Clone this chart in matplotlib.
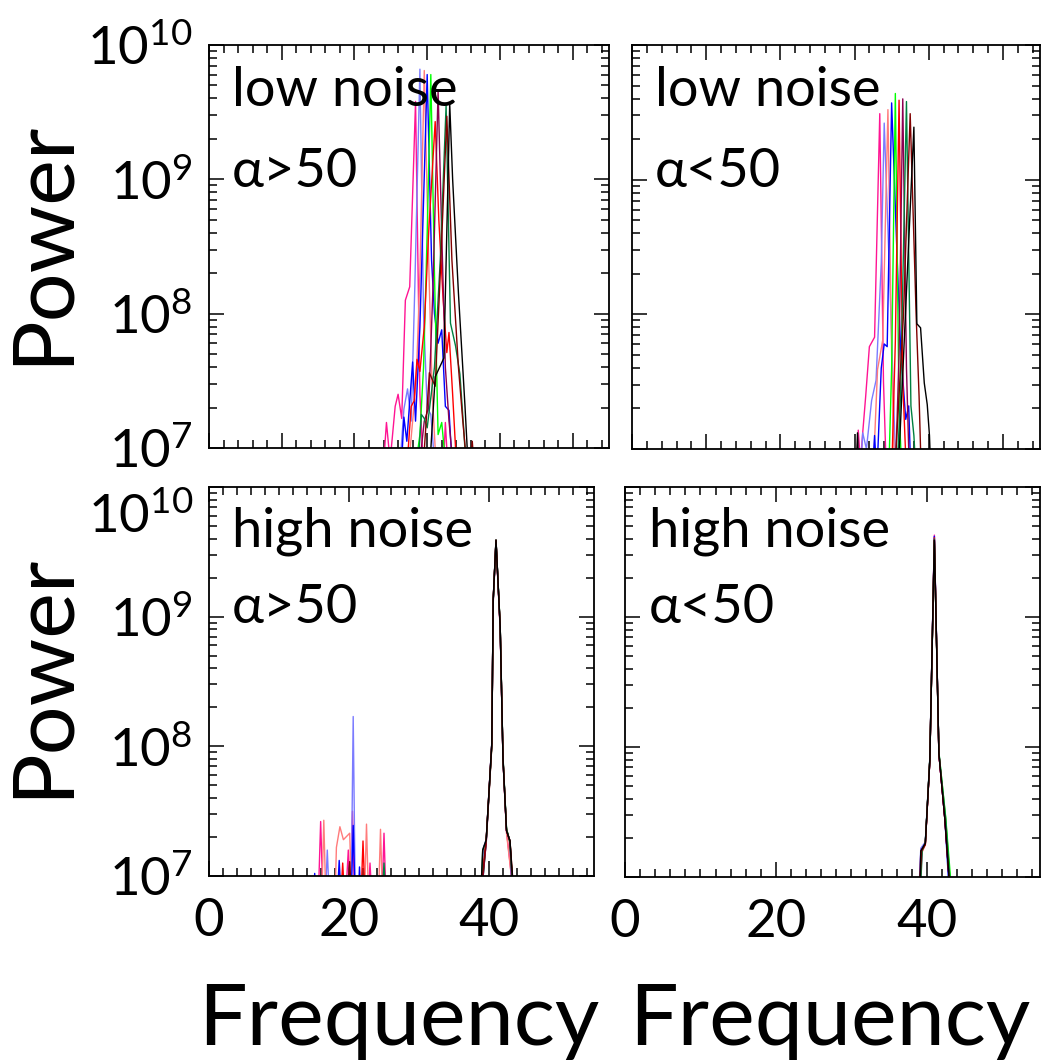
import numpy as np
import matplotlib
matplotlib.use("Agg")
import matplotlib.pyplot as plt
from matplotlib.ticker import LogLocator, MultipleLocator, NullFormatter, FuncFormatter

plt.rcParams["font.family"] = ["Lato", "DejaVu Sans"]
plt.rcParams["mathtext.default"] = "regular"

W, H = 1042, 1061

series_colors = ["#FF1493", "#7B7BFF", "#FF7B7B", "#0000FF", "#00FF00",
                 "#FF0000", "#8B0050", "#008040", "#800000", "#000000"]

# low noise, alpha > 50  (frequency, log10 power)
tl_freq = [
    [23.9, 24.4, 24.9, 25.6, 26.0, 26.5, 27.0, 27.6, 28.4, 29.0, 29.5, 32.2, 32.5, 32.9],
    [26.3, 26.8, 27.3, 27.8, 28.3, 29.0, 29.5, 30.0, 30.5, 31.0],
    [27.5, 28.0, 28.5, 29.0, 29.6, 30.2, 30.7, 31.2],
    [26.5, 26.8, 27.2, 28.0, 28.4, 29.0, 30.0, 30.6, 31.0, 31.5, 32.0, 32.5, 33.0, 33.4],
    [28.5, 29.0, 29.5, 30.0, 30.5, 31.0, 31.5, 32.0, 32.5],
    [26.8, 27.4, 27.8, 28.2, 28.6, 29.0, 29.6, 30.2, 31.1, 31.6, 32.2, 32.7, 33.0, 33.5, 34.0],
    [29.0, 29.6, 30.2, 30.8, 31.5, 32.0, 32.5, 33.0, 33.5],
    [28.8, 29.2, 29.6, 30.0, 31.0, 31.8, 32.6, 33.2, 33.9, 34.5, 35.0, 35.3],
    [29.5, 30.3, 31.1, 31.8, 32.7, 33.4, 34.3, 34.9, 35.4, 36.0, 36.2, 36.4],
    [30.4, 31.1, 31.7, 32.3, 33.1, 33.5, 34.3, 35.2, 35.6],
]
tl_logp = [
    [6.8, 7.19, 6.9, 7.31, 7.40, 7.22, 8.10, 8.20, 9.58, 7.4, 6.8, 6.8, 7.19, 6.8],
    [6.9, 7.29, 7.44, 7.2, 8.2, 9.82, 8.0, 7.3, 7.25, 6.9],
    [6.9, 7.2, 7.5, 8.3, 9.81, 8.4, 7.4, 6.9],
    [6.9, 7.23, 7.05, 7.64, 7.2, 7.9, 9.78, 8.4, 8.0, 7.78, 7.88, 7.31, 7.28, 6.9],
    [6.9, 7.1, 7.6, 8.6, 9.78, 8.3, 7.1, 7.19, 6.9],
    [6.9, 7.0, 7.31, 7.35, 7.66, 7.57, 7.9, 8.6, 9.43, 8.7, 8.1, 7.71, 7.86, 7.4, 6.9],
    [6.9, 7.2, 7.3, 8.2, 9.66, 8.6, 7.6, 7.2, 6.9],
    [6.9, 7.25, 7.22, 7.15, 7.6, 8.4, 9.55, 7.93, 7.76, 7.55, 7.16, 6.9],
    [6.9, 7.56, 7.46, 8.3, 9.47, 8.4, 7.6, 7.2, 6.9, 6.9, 7.05, 6.9],
    [6.9, 7.53, 7.6, 7.67, 9.56, 9.0, 8.15, 7.31, 6.9],
]

# low noise, alpha < 50
tr_freq = [
    [30.2, 30.5, 30.8, 31.1, 31.5, 32.0, 32.7, 33.4, 33.9, 34.3],
    [30.8, 31.1, 31.6, 32.3, 32.9, 33.6, 34.0, 34.9, 35.3, 35.6],
    [32.5, 33.1, 33.8, 34.5, 35.0, 35.4],
    [32.4, 32.7, 33.0, 33.6, 34.0, 34.4, 35.0, 35.8, 36.2, 36.9, 37.3, 37.6],
    [34.6, 35.0, 35.5, 36.0, 36.4],
    [35.0, 35.5, 36.0, 36.5, 37.0],
    [35.5, 36.0, 36.5, 37.0, 37.4],
    [35.7, 36.2, 37.0, 37.6, 38.0, 38.3],
    [35.2, 35.6, 36.6, 37.5, 38.3, 38.7, 39.0],
    [30.2, 30.4, 30.6, 36.0, 38.0, 38.4, 38.9, 39.4, 39.8, 40.1, 40.3],
]
tr_logp = [
    [6.8, 7.14, 6.9, 7.12, 7.39, 7.76, 7.83, 9.49, 7.5, 6.8],
    [6.8, 7.12, 7.0, 7.36, 7.51, 8.38, 9.42, 8.0, 7.3, 6.8],
    [6.8, 7.59, 7.81, 9.52, 7.7, 6.8],
    [6.8, 7.1, 6.8, 7.6, 7.78, 7.76, 9.57, 8.33, 7.76, 7.22, 7.32, 6.8],
    [6.8, 7.6, 9.64, 7.3, 6.8],
    [6.8, 7.8, 9.59, 7.5, 6.8],
    [6.8, 7.7, 9.60, 7.6, 6.8],
    [6.8, 7.4, 9.58, 7.32, 7.1, 6.8],
    [6.8, 7.0, 8.0, 9.49, 8.0, 7.39, 6.8],
    [6.8, 7.12, 6.8, 6.95, 9.39, 7.93, 7.9, 7.49, 7.33, 7.1, 6.8],
]

# high noise, alpha > 50
bl_freq = [
    [15.6, 15.95, 16.3, 19.5, 19.9, 20.2, 20.5, 20.8, 22.7, 23.0, 23.3, 24.7, 25.0, 25.3,
     38.9, 39.6, 40.4, 40.6, 41.0, 41.6, 42.0, 42.5, 43.4],
    [16.6, 16.9, 17.2, 20.3, 20.6, 20.9, 38.9, 39.2, 39.6, 40.4, 40.6, 41.0, 41.6, 42.0, 42.5, 43.0, 43.3],
    [16.1, 16.4, 16.7, 18.0, 18.2, 18.7, 19.2, 20.1, 20.4, 22.2, 22.5, 22.8, 24.2, 24.5, 24.8,
     38.9, 39.6, 40.4, 40.6, 41.0, 41.6, 42.0, 42.5, 43.4],
    [14.9, 15.1, 15.3, 18.3, 18.6, 18.9, 20.3, 20.6, 20.9, 21.3, 21.5, 21.7,
     39.0, 39.6, 40.4, 40.6, 41.0, 41.6, 42.0, 42.5, 43.0, 43.3],
    [39.0, 39.6, 40.4, 40.6, 41.0, 41.6, 42.0, 42.5, 43.0, 43.4],
    [18.8, 19.1, 19.4, 21.7, 22.0, 22.3, 38.9, 39.6, 40.4, 40.6, 41.0, 41.6, 42.0, 42.5, 43.0, 43.4],
    [39.0, 39.6, 40.4, 40.6, 41.0, 41.6, 42.0, 42.5, 43.0, 43.4],
    [24.7, 25.0, 25.3, 38.9, 39.1, 39.6, 40.4, 40.6, 41.0, 41.6, 42.0, 42.5, 43.0, 43.4],
    [19.8, 20.1, 20.4, 38.9, 39.6, 40.4, 40.6, 41.0, 41.6, 42.0, 42.5, 43.0, 43.5],
    [38.9, 39.1, 39.6, 40.4, 40.6, 41.0, 41.6, 42.0, 42.5, 43.0, 43.4],
]
bl_logp = [
    [6.8, 7.42, 6.8, 6.8, 7.2, 6.9, 7.5, 6.8, 6.8, 7.1, 6.8, 6.8, 7.33, 6.8,
     6.9, 7.25, 8.0, 9.1, 9.58, 8.9, 7.9, 7.35, 6.9],
    [6.8, 7.2, 6.8, 6.8, 8.23, 6.8, 6.9, 7.22, 7.28, 8.03, 9.13, 9.59, 8.92, 7.92, 7.36, 7.26, 6.9],
    [6.8, 7.43, 6.8, 6.8, 7.22, 7.38, 7.28, 7.33, 6.8, 6.8, 7.4, 6.8, 6.8, 7.36, 6.8,
     6.9, 7.27, 8.0, 9.12, 9.58, 8.9, 7.9, 7.33, 6.9],
    [6.8, 7.02, 6.8, 6.8, 7.12, 6.8, 6.8, 7.39, 6.8, 6.8, 7.07, 6.8,
     6.9, 7.27, 8.02, 9.12, 9.59, 8.92, 7.9, 7.35, 7.27, 6.9],
    [6.9, 7.27, 8.0, 9.12, 9.59, 8.93, 7.92, 7.37, 7.25, 6.9],
    [6.8, 7.1, 6.8, 6.8, 7.27, 6.8, 6.9, 7.28, 8.02, 9.13, 9.59, 8.92, 7.9, 7.35, 7.27, 6.9],
    [6.9, 7.26, 8.01, 9.13, 9.58, 8.91, 7.91, 7.36, 7.26, 6.9],
    [6.8, 7.1, 6.8, 6.9, 7.2, 7.27, 8.02, 9.12, 9.59, 8.92, 7.9, 7.36, 7.27, 6.9],
    [6.8, 7.11, 6.8, 6.9, 7.28, 8.02, 9.13, 9.59, 8.92, 7.91, 7.35, 7.27, 6.9],
    [6.95, 7.2, 7.28, 8.02, 9.13, 9.59, 8.92, 7.9, 7.35, 7.27, 6.95],
]

# high noise, alpha < 50
br_freq = [
    [39.1, 39.4, 39.8, 40.4, 41.0, 41.6, 42.4, 43.0],
    [39.0, 39.2, 39.8, 40.4, 41.0, 41.6, 42.4, 43.0],
    [39.1, 39.3, 39.8, 40.4, 41.0, 41.6, 42.5, 43.0],
    [39.1, 39.2, 39.8, 40.4, 41.0, 41.6, 42.4, 42.9],
    [39.1, 39.3, 39.8, 40.4, 41.0, 41.6, 42.5, 43.2],
    [39.1, 39.2, 39.8, 40.4, 41.0, 41.6, 42.4, 43.0],
    [39.1, 39.3, 39.8, 40.4, 41.0, 41.6, 42.4, 43.0],
    [39.2, 39.4, 39.8, 40.4, 41.0, 41.6, 42.5, 43.1],
    [39.1, 39.3, 39.8, 40.4, 41.0, 41.6, 42.4, 43.0],
    [39.1, 39.2, 39.8, 40.4, 41.0, 41.6, 42.4, 43.0],
]
br_logp = [
    [6.95, 7.2, 7.25, 7.9, 9.63, 7.95, 7.44, 6.95],
    [6.95, 7.22, 7.27, 7.92, 9.62, 7.96, 7.45, 6.95],
    [6.95, 7.18, 7.25, 7.9, 9.60, 7.94, 7.43, 6.95],
    [6.95, 7.2, 7.26, 7.9, 9.62, 7.95, 7.44, 6.95],
    [6.95, 7.19, 7.26, 7.91, 9.58, 7.96, 7.46, 6.95],
    [6.95, 7.2, 7.25, 7.9, 9.61, 7.95, 7.44, 6.95],
    [6.95, 7.2, 7.26, 7.9, 9.59, 7.95, 7.44, 6.95],
    [6.95, 7.21, 7.26, 7.91, 9.60, 7.96, 7.45, 6.95],
    [6.95, 7.2, 7.25, 7.9, 9.59, 7.95, 7.44, 6.95],
    [6.95, 7.2, 7.26, 7.9, 9.59, 7.95, 7.44, 6.95],
]

panel_labels = [("low noise", "\u03b1>50"), ("low noise", "\u03b1<50"),
                ("high noise", "\u03b1>50"), ("high noise", "\u03b1<50")]


def px_rect(x0, y0, x1, y1):
    return [x0 / W, 1 - y1 / H, (x1 - x0) / W, (y1 - y0) / H]


fig = plt.figure(figsize=(W / 100, H / 100), dpi=100)
ax_tl = fig.add_axes(px_rect(209, 45, 609, 448))
ax_tr = fig.add_axes(px_rect(632, 45, 1040, 449))
ax_bl = fig.add_axes(px_rect(209, 487, 594, 876))
ax_br = fig.add_axes(px_rect(625, 487, 1040, 877))

panels = [(ax_tl, tl_freq, tl_logp), (ax_tr, tr_freq, tr_logp),
          (ax_bl, bl_freq, bl_logp), (ax_br, br_freq, br_logp)]


def pow_label(v, pos):
    return r"$\mathregular{10^{%d}}$" % int(round(np.log10(v)))


def pow_label_bl(v, pos):
    if round(np.log10(v)) == 10:
        return ""
    return pow_label(v, pos)


for i, (ax, freqs, logps) in enumerate(panels):
    for f, lp, c in zip(freqs, logps, series_colors):
        ax.plot(f, 10.0 ** np.array(lp), color=c, lw=1.0)
    ax.set_yscale("log")
    ax.set_xlim(0, 55)
    ax.set_ylim(1e7, 1e10)
    ax.yaxis.set_major_locator(LogLocator(base=10, numticks=10))
    ax.yaxis.set_minor_locator(LogLocator(base=10, subs=np.arange(2, 10), numticks=10))
    ax.yaxis.set_minor_formatter(NullFormatter())
    if i < 2:
        ax.xaxis.set_major_locator(MultipleLocator(10))
    else:
        ax.xaxis.set_major_locator(MultipleLocator(20))
    ax.xaxis.set_minor_locator(MultipleLocator(2))
    ax.tick_params(which="both", direction="in", top=True, right=True, width=1.1,
                   labelsize=38, labelbottom=(i >= 2), labelleft=(i % 2 == 0))
    ax.tick_params(axis="y", which="major", pad=12)
    ax.tick_params(axis="x", which="major", pad=16)
    ax.tick_params(which="major", length=11)
    ax.tick_params(which="minor", length=5.5)
    if i == 2:
        ax.yaxis.set_major_formatter(FuncFormatter(pow_label_bl))
    else:
        ax.yaxis.set_major_formatter(FuncFormatter(pow_label))
    for s in ax.spines.values():
        s.set_linewidth(1.3)

# IDL put the top label of the lower-left panel a bit lower
fig.text(193 / W, 1 - 517 / H, r"$\mathregular{10^{10}}$", fontsize=38,
         ha="right", va="center")

label_pos = [(232, 106, 187), (655, 106, 187), (232, 546, 623), (649, 546, 623)]
for (x, y1, y2), (t1, t2) in zip(label_pos, panel_labels):
    fig.text(x / W, 1 - y1 / H, t1, fontsize=39, va="baseline", ha="left")
    fig.text(x / W, 1 - y2 / H, t2, fontsize=39, va="baseline", ha="left")

fig.text(43 / W, 1 - 242 / H, "Power", fontsize=62, rotation=90, ha="center", va="center")
fig.text(43 / W, 1 - 675 / H, "Power", fontsize=62, rotation=90, ha="center", va="center")
fig.text(399 / W, 1 - 1045 / H, "Frequency", fontsize=62, ha="center", va="baseline")
fig.text(830 / W, 1 - 1045 / H, "Frequency", fontsize=62, ha="center", va="baseline")

fig.savefig("out.png", dpi=100)
